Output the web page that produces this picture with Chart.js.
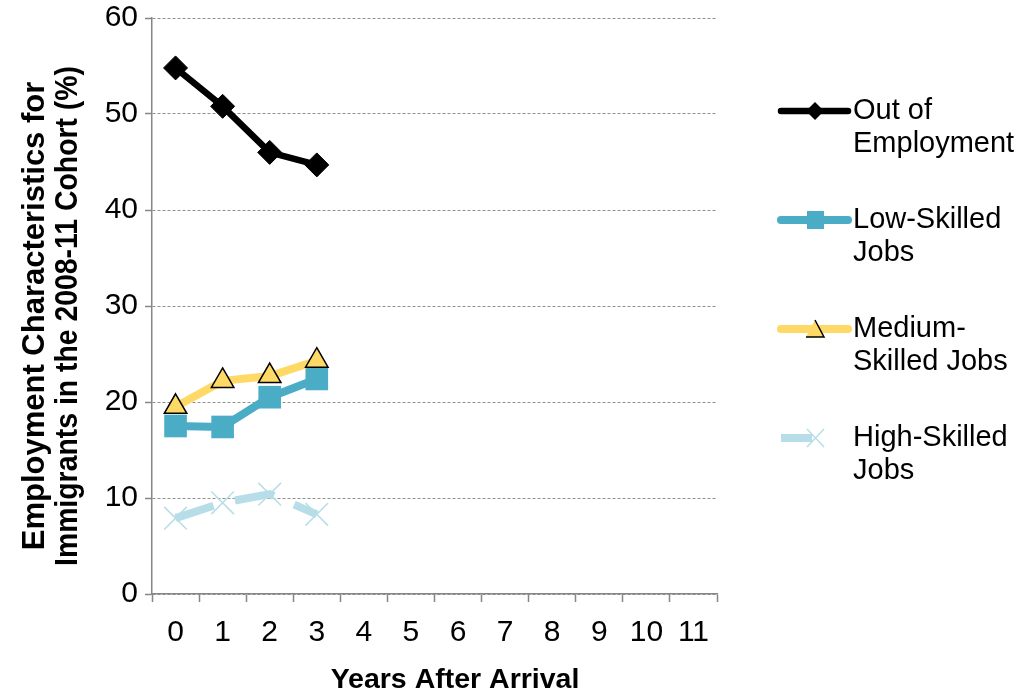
<!DOCTYPE html>
<html>
<head>
<meta charset="utf-8">
<script src="https://cdn.jsdelivr.net/npm/chart.js@4"></script>
<style>
  html, body { margin: 0; padding: 0; background: #ffffff; }
  canvas { display: block; }
</style>
</head>
<body>
<canvas id="chart" width="1016" height="694"></canvas>
<script>
// Years since arrival (category axis)
const years = ['0', '1', '2', '3', '4', '5', '6', '7', '8', '9', '10', '11'];

// Share of the 2008-11 cohort in each employment state (%)
const outOfEmployment = [54.8, 50.8, 46.0, 44.7];
const lowSkilledJobs = [17.5, 17.4, 20.5, 22.4];
const mediumSkilledJobs = [19.5, 22.2, 22.7, 24.3];
const highSkilledJobs = [7.9, 9.5, 10.4, 8.3];

// Legend / series labels (two lines each)
const seriesLabels = [
  ['Out of', 'Employment'],
  ['Low-Skilled', 'Jobs'],
  ['Medium-', 'Skilled Jobs'],
  ['High-Skilled', 'Jobs']
];

// Value axis
const yMin = 0;
const yMax = 60;
const yStep = 10;

const yTitle = ['Employment Characteristics for', 'Immigrants in the 2008-11 Cohort (%)'];
const xTitle = 'Years After Arrival';

const FONT = '"Liberation Sans", Arial, Helvetica, sans-serif';
const AXIS_GREY = '#868686';

const colors = {
  out: '#000000',
  low: '#4BACC6',
  medium: '#FFD966',
  high: '#B7DEE8'
};

// Axis titles, placed relative to the whole chart
const axisTitles = {
  id: 'axisTitles',
  afterDraw(chart) {
    const ctx = chart.ctx;
    ctx.save();
    ctx.fillStyle = '#000000';
    ctx.textAlign = 'center';
    ctx.textBaseline = 'middle';
    ctx.font = 'bold 28.5px ' + FONT;
    ctx.fillText(xTitle, 455, 680);
    ctx.font = 'bold 31px ' + FONT;
    ctx.translate(0, 316);
    ctx.rotate(-Math.PI / 2);
    const widths = [490, 500];
    yTitle.forEach((t, k) => ctx.fillText(t, 0, 35 + k * 33, widths[k]));
    ctx.restore();
  }
};

// Legend drawn at the right of the plot, one block per series
const sideLegend = {
  id: 'sideLegend',
  afterDraw(chart) {
    const ctx = chart.ctx;
    const rows = [111, 220, 329, 438];
    const x0 = 781, x1 = 848, mx = 815, tx = 853, lh = 33;
    ctx.save();
    ctx.font = '29px ' + FONT;
    ctx.textBaseline = 'middle';
    ctx.textAlign = 'left';
    ctx.fillStyle = '#000000';
    chart.data.datasets.forEach((ds, i) => {
      const y = rows[i];
      ctx.save();
      ctx.strokeStyle = ds.borderColor;
      ctx.lineWidth = ds.borderWidth;
      if (i === 3) {
        ctx.lineCap = 'butt';
        ctx.beginPath(); ctx.moveTo(x0, y); ctx.lineTo(812, y); ctx.stroke();
      } else {
        ctx.lineCap = 'round';
        ctx.beginPath(); ctx.moveTo(x0, y); ctx.lineTo(x1, y); ctx.stroke();
      }
      // marker
      ctx.lineCap = 'butt';
      if (i === 0) {
        const r = 9;
        ctx.fillStyle = '#000';
        ctx.beginPath();
        ctx.moveTo(mx - r, y); ctx.lineTo(mx, y - r); ctx.lineTo(mx + r, y); ctx.lineTo(mx, y + r);
        ctx.closePath(); ctx.fill();
      } else if (i === 1) {
        ctx.fillStyle = colors.low;
        ctx.fillRect(mx - 8, y - 9, 17, 18);
      } else if (i === 2) {
        ctx.fillStyle = colors.medium;
        ctx.beginPath();
        ctx.moveTo(mx, y - 9); ctx.lineTo(mx + 9, y + 8); ctx.lineTo(mx - 9, y + 8);
        ctx.closePath(); ctx.fill();
        ctx.strokeStyle = '#000'; ctx.lineWidth = 1.5;
        ctx.beginPath();
        ctx.moveTo(mx, y - 9); ctx.lineTo(mx + 9, y + 8); ctx.lineTo(mx - 9, y + 8);
        ctx.stroke();
      } else {
        ctx.strokeStyle = colors.high; ctx.lineWidth = 1.5;
        ctx.beginPath();
        ctx.moveTo(mx - 8, y - 9); ctx.lineTo(mx + 9, y + 9);
        ctx.moveTo(mx + 9, y - 9); ctx.lineTo(mx - 8, y + 9);
        ctx.stroke();
      }
      ctx.restore();
      seriesLabels[i].forEach((t, k) => ctx.fillText(t, tx, y + k * lh));
    });
    ctx.restore();
  }
};

new Chart(document.getElementById('chart'), {
  type: 'line',
  data: {
    labels: years,
    datasets: [
      {
        label: seriesLabels[0].join(' '),
        data: outOfEmployment,
        borderColor: colors.out,
        backgroundColor: colors.out,
        borderWidth: 6.5,
        borderJoinStyle: 'round',
        borderCapStyle: 'round',
        pointStyle: 'rectRot',
        pointRadius: 12,
        pointBorderWidth: 1,
        pointBorderColor: colors.out,
        pointBackgroundColor: colors.out,
        order: 3
      },
      {
        label: seriesLabels[1].join(' '),
        data: lowSkilledJobs,
        borderColor: colors.low,
        backgroundColor: colors.low,
        borderWidth: 8,
        borderJoinStyle: 'round',
        borderCapStyle: 'round',
        pointStyle: 'rect',
        pointRadius: 16,
        pointBorderWidth: 0,
        pointBackgroundColor: colors.low,
        order: 2
      },
      {
        label: seriesLabels[2].join(' '),
        data: mediumSkilledJobs,
        borderColor: colors.medium,
        backgroundColor: colors.medium,
        borderWidth: 8,
        borderJoinStyle: 'round',
        borderCapStyle: 'round',
        pointStyle: 'triangle',
        pointRadius: 13,
        pointBorderWidth: 1.5,
        pointBorderColor: '#000000',
        pointBackgroundColor: colors.medium,
        order: 1
      },
      {
        label: seriesLabels[3].join(' '),
        data: highSkilledJobs,
        borderColor: colors.high,
        backgroundColor: colors.high,
        borderWidth: 8,
        borderDash: [40, 22],
        borderCapStyle: 'butt',
        pointStyle: 'crossRot',
        pointRadius: 16,
        pointBorderWidth: 1.5,
        pointBorderColor: colors.high,
        order: 0
      }
    ]
  },
  options: {
    responsive: false,
    animation: false,
    devicePixelRatio: 1,
    layout: { padding: { left: 0, top: 18, right: 299, bottom: 0 } },
    plugins: {
      legend: { display: false },
      tooltip: { enabled: false }
    },
    elements: { line: { tension: 0 } },
    scales: {
      x: {
        type: 'category',
        offset: true,
        grid: {
          offset: true,
          drawOnChartArea: false,
          drawTicks: true,
          tickLength: 8,
          tickColor: AXIS_GREY,
          tickWidth: 1.5,
          color: AXIS_GREY
        },
        border: { display: true, color: AXIS_GREY, width: 1.5 },
        ticks: {
          color: '#000000',
          font: { family: FONT, size: 30 },
          padding: 13,
          maxRotation: 0,
          autoSkip: false
        },
        afterFit(scale) { scale.height = 100; }
      },
      y: {
        min: yMin,
        max: yMax,
        ticks: {
          stepSize: yStep,
          color: '#000000',
          font: { family: FONT, size: 30 },
          padding: 7
        },
        grid: {
          color: '#8f8f8f',
          lineWidth: 1,
          drawTicks: true,
          tickLength: 7,
          tickColor: AXIS_GREY,
          tickWidth: 1.5,
          tickBorderDash: []
        },
        border: { display: true, color: AXIS_GREY, width: 1.5, dash: [3, 2] },
        afterFit(scale) {
          scale.width = 152;
          scale.paddingTop = 0;
          scale.paddingBottom = 0;
        }
      }
    }
  },
  plugins: [axisTitles, sideLegend]
});
</script>
</body>
</html>
